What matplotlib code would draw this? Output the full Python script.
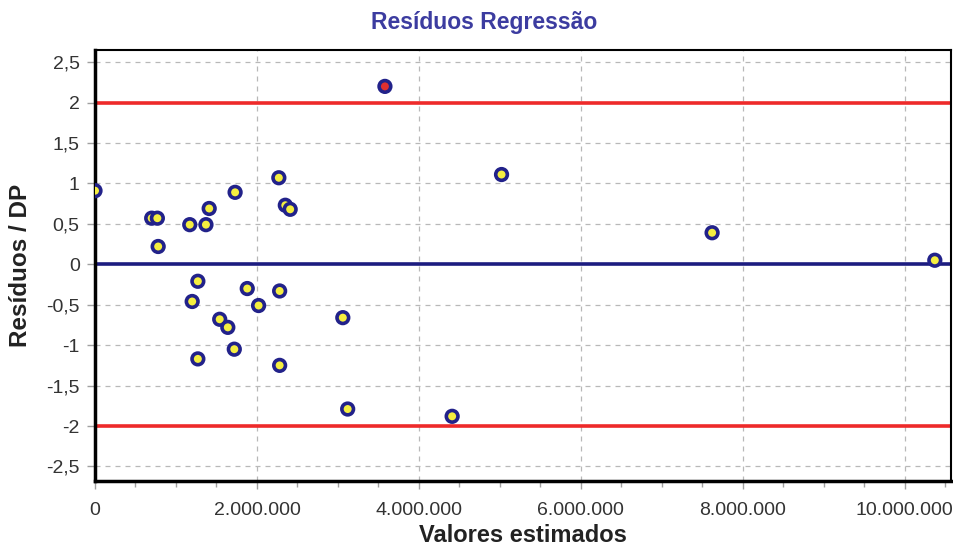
import matplotlib
matplotlib.use("Agg")
import matplotlib.pyplot as plt
from matplotlib.ticker import FuncFormatter, MultipleLocator

# Data (estimated values, residuals / SD)
valores_estimados = [0, 700000, 770000, 780000, 1170000, 1370000, 1410000, 1730000,
                     2270000, 2350000, 2410000, 3580000, 5020000, 7620000, 10370000,
                     1270000, 1200000, 1880000, 2020000, 2280000, 1540000, 1640000,
                     1720000, 1270000, 2280000, 3060000, 3120000, 4410000]
residuos_dp = [0.91, 0.57, 0.57, 0.22, 0.49, 0.49, 0.69, 0.89,
               1.07, 0.73, 0.68, 2.2, 1.11, 0.39, 0.05,
               -0.21, -0.46, -0.30, -0.51, -0.33, -0.68, -0.78,
               -1.05, -1.17, -1.25, -0.66, -1.79, -1.88]
limites = [2, -2]
x_ticks = [0, 2000000, 4000000, 6000000, 8000000, 10000000]
y_ticks = [-2.5, -2, -1.5, -1, -0.5, 0, 0.5, 1, 1.5, 2, 2.5]

plt.rcParams['font.family'] = ['Liberation Sans', 'DejaVu Sans']

fig = plt.figure(figsize=(9.54, 5.49), dpi=100)
ax = fig.add_axes([95/954, 1-481/549, (951-95)/954, (481-50)/549])

ax.set_xlim(0, 10570000)
ax.set_ylim(-2.68, 2.65)

ax.set_xticks(x_ticks)
ax.xaxis.set_minor_locator(MultipleLocator(500000))
ax.set_yticks(y_ticks)

def fmt_x(v, pos):
    return f"{int(round(v)):,}".replace(",", ".")

def fmt_y(v, pos):
    s = f"{v:g}".replace(".", ",")
    return s

ax.xaxis.set_major_formatter(FuncFormatter(fmt_x))
ax.yaxis.set_major_formatter(FuncFormatter(fmt_y))

ax.grid(True, which='major', color='#b8b8b8', linestyle=(0, (4, 4)), linewidth=0.9)
ax.set_axisbelow(True)

for lim in limites:
    ax.axhline(lim, color='#ee2a2a', linewidth=2.6, zorder=2)
ax.axhline(0, color='#1c1c80', linewidth=2.6, zorder=2)

faces = ['#e03030' if abs(r) > 2 else '#f5ee40' for r in residuos_dp]
ax.scatter(valores_estimados, residuos_dp, s=70, facecolors=faces,
           edgecolors='#22228a', linewidths=2.6, zorder=3)

for side in ['left', 'bottom', 'top', 'right']:
    ax.spines[side].set_color('black')
ax.spines['left'].set_linewidth(2.5)
ax.spines['bottom'].set_linewidth(2.5)
ax.spines['top'].set_linewidth(1.5)
ax.spines['right'].set_linewidth(1.5)

ax.tick_params(axis='both', which='major', direction='out', length=6,
               color='#a0a0a0', labelcolor='#333333', labelsize=14, width=1)
ax.tick_params(axis='x', which='minor', direction='out', length=4,
               color='#a0a0a0', width=1)
ax.tick_params(axis='x', pad=9)
ax.tick_params(axis='y', pad=5)

ax.set_xlabel('Valores estimados', fontsize=17, fontweight='bold', color='#222222', labelpad=4)
ax.set_ylabel('Resíduos / DP', fontsize=17.5, fontweight='bold', color='#222222', labelpad=10)
fig.text(484/954, 1-22/549, 'Resíduos Regressão', ha='center', va='center',
         fontsize=16.5, fontweight='bold', color='#3c3ca0')

fig.savefig('out.png', dpi=100)
